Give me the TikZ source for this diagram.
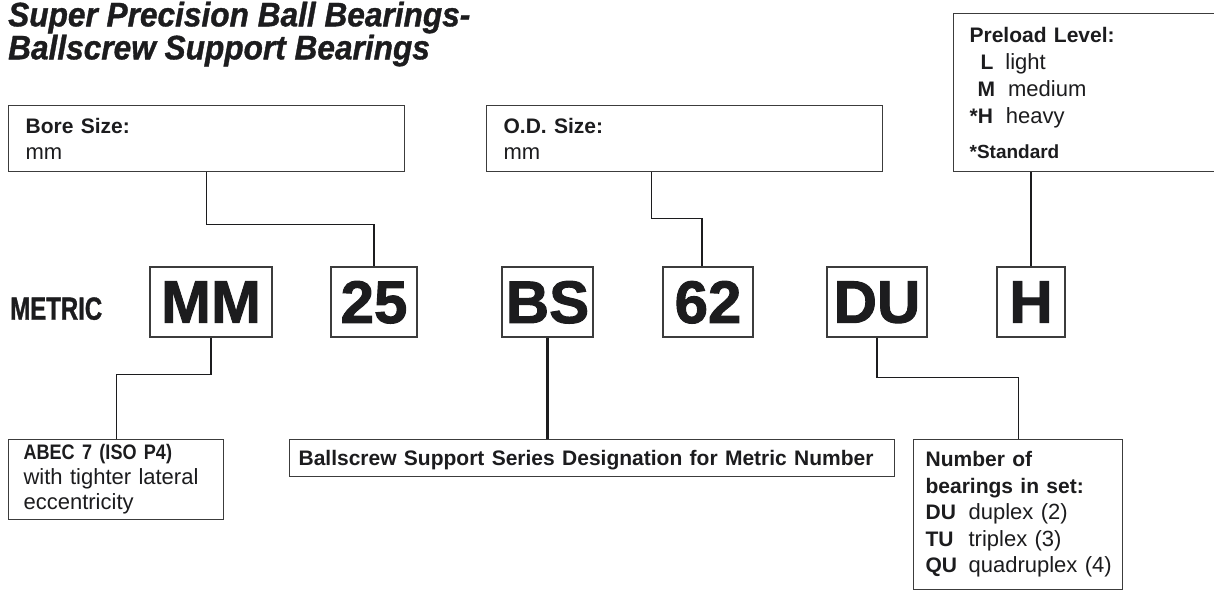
\documentclass[tikz,border=0pt]{standalone}
\usepackage{fontspec}
\setmainfont{Liberation Sans}
\newfontfamily\narrowfont[FakeStretch=0.75, FakeBold=1]{Liberation Sans Bold}
\newfontfamily\semifont[FakeStretch=0.86]{Liberation Sans Bold}
\newfontfamily\heavyfont[FakeBold=1.6]{Liberation Sans Bold}
\newfontfamily\titlefamily[FakeStretch=0.93, FakeBold=1]{Liberation Sans Bold Italic}
\usetikzlibrary{positioning, calc}
\definecolor{inkblack}{HTML}{1C1C1E}
\definecolor{frameline}{HTML}{3C3C3C}
\newcommand\headText[1]{{\fontsize{21}{25}\selectfont\bfseries #1}}

\begin{document}
\begin{tikzpicture}[
  x=1pt, y=-1pt,
  codeBox/.style={draw=frameline, line width=1.4pt, minimum height=70pt, inner sep=0pt, text depth=0pt, text=inkblack, font={\heavyfont\fontsize{60}{60}\selectfont}},
  infoBox/.style={draw=frameline, line width=1.2pt, anchor=north west, inner ysep=0pt, align=left, text=inkblack, font=\fontsize{22}{26}\selectfont},
  titleText/.style={anchor=north west, inner sep=0pt, align=left, text=inkblack, font={\titlefamily\fontsize{34}{33}\selectfont}},
  link/.style={draw=inkblack, line width=1.2pt},
  boldLink/.style={draw=inkblack, line width=2.2pt}
]
\fill[white] (0,0) rectangle (1214,591);
\useasboundingbox (0,0) rectangle (1214,591);

% Title
\node[titleText] (title) at (8,1.5) {Super Precision Ball Bearings-\\Ballscrew Support Bearings};

% Part number
\node[anchor=west, inner sep=0pt, text depth=0pt, text=inkblack, font={\narrowfont\fontsize{32}{32}\selectfont}] (metric) at (10,308.5) {METRIC};
\node[codeBox, minimum width=122pt] (codeMM) at (211,302) {MM};
\node[codeBox, minimum width=86pt] (code25) at (374,302) {25};
\node[codeBox, minimum width=91pt] (codeBS) at (547.5,302) {BS};
\node[codeBox, minimum width=90pt] (code62) at (708,302) {62};
\node[codeBox, minimum width=100pt] (codeDU) at (877,302) {DU};
\node[codeBox, minimum width=68pt] (codeH) at (1031,302) {H};

% Upper notes
\node[infoBox, minimum width=396pt, minimum height=66pt, inner xsep=17pt, text width=362pt] (bore) at (8,105) {\headText{Bore Size:}\\mm};
\node[infoBox, minimum width=396pt, minimum height=66pt, inner xsep=17pt, text width=362pt] (od) at (486,105) {\headText{O.D. Size:}\\mm};
\node[infoBox, minimum width=262pt, minimum height=158pt, inner xsep=16pt, text width=230pt, font=\fontsize{22}{27.3}\selectfont] (preload) at (953,13) {\headText{Preload Level:}\\
  \hspace*{11pt}\headText{L}\hspace{12pt}light\\
  \hspace*{8pt}\headText{M}\hspace{13pt}medium\\
  \headText{*H}\hspace{13pt}heavy\\[7pt]
  {\fontsize{19}{19}\selectfont\bfseries *Standard}};

% Lower notes
\node[infoBox, minimum width=215pt, minimum height=80pt, inner xsep=15pt, text width=185pt, font=\fontsize{22}{25}\selectfont] (abec) at (8,439) {{\semifont\fontsize{21}{25}\selectfont ABEC 7 (ISO P4)}\\with tighter lateral\\eccentricity};
\node[infoBox, minimum width=605pt, minimum height=37pt, inner xsep=9pt, text width=587pt, text depth=0pt] (series) at (289,439) {\headText{Ballscrew Support Series Designation for Metric Number}};
\node[infoBox, minimum width=209pt, minimum height=150pt, inner xsep=12pt, text width=185pt, font=\fontsize{22}{26.5}\selectfont] (sets) at (913,439) {\headText{Number of}\\
  \headText{bearings in set:}\\
  \makebox[43pt][l]{\headText{DU}}duplex~(2)\\
  \makebox[43pt][l]{\headText{TU}}triplex~(3)\\
  \makebox[43pt][l]{\headText{QU}}quadruplex~(4)};

% Leaders
\draw[link] (bore.south) -- ++(0,52) -| (code25.north);
\draw[link] ([xshift=-33pt]od.south) -- ++(0,46) -| ([xshift=-6pt]code62.north);
\draw[boldLink] (preload.south -| codeH.north) -- (codeH.north);
\draw[link] (codeMM.south) -- ++(0,37) -| (abec.north);
\draw[boldLink] (codeBS.south) -- (codeBS.south |- series.north);
\draw[link] (codeDU.south) -- ++(0,40) -| (sets.north);

\end{tikzpicture}
\end{document}
